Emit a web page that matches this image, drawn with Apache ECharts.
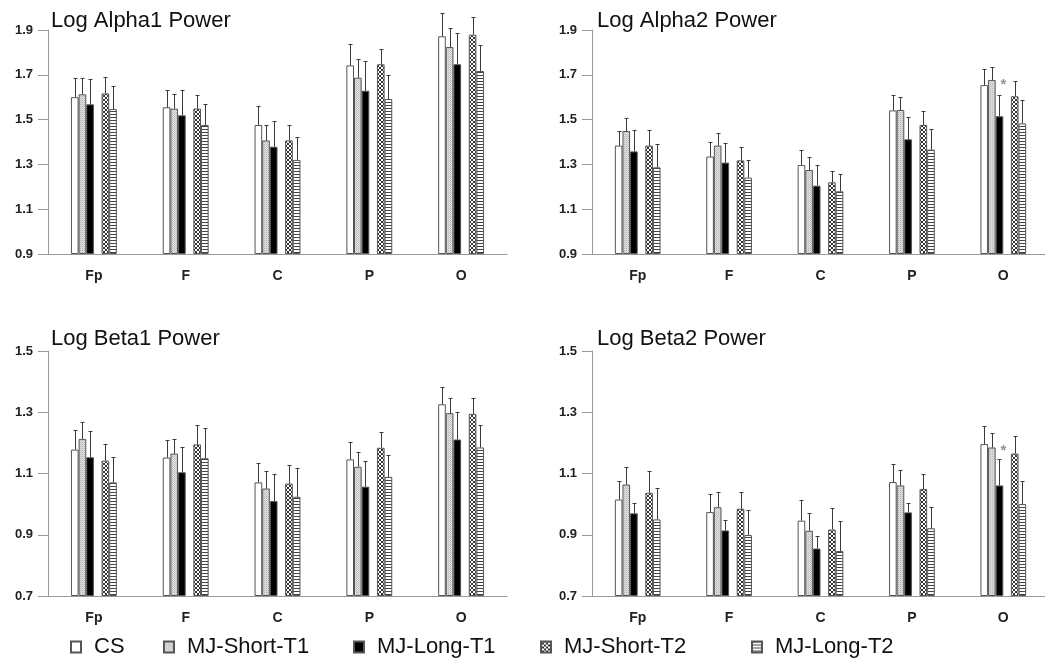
<!DOCTYPE html>
<html>
<head>
<meta charset="utf-8">
<title>Log EEG Power</title>
<script src="https://cdn.jsdelivr.net/npm/echarts@6/dist/echarts.min.js"></script>
<style>
  html, body { margin: 0; padding: 0; background: #fff; }
  #chart { width: 1045px; height: 665px; }
</style>
</head>
<body>
<div id="chart"></div>
<script>
const regions = ['Fp', 'F', 'C', 'P', 'O']
const groups = ['CS', 'MJ-Short-T1', 'MJ-Long-T1', 'MJ-Short-T2', 'MJ-Long-T2']

// one row per group, one column per region
const alpha1Mean = [
  [1.600, 1.555, 1.476, 1.742, 1.872],
  [1.613, 1.549, 1.407, 1.687, 1.824],
  [1.568, 1.519, 1.379, 1.629, 1.747],
  [1.617, 1.549, 1.407, 1.747, 1.879],
  [1.547, 1.476, 1.320, 1.592, 1.717]
]
const alpha1Err = [
  [0.086, 0.079, 0.085, 0.096, 0.102],
  [0.073, 0.067, 0.069, 0.084, 0.083],
  [0.113, 0.115, 0.116, 0.131, 0.138],
  [0.072, 0.062, 0.067, 0.070, 0.081],
  [0.104, 0.092, 0.101, 0.109, 0.115]
]
const alpha2Mean = [
  [1.384, 1.335, 1.297, 1.541, 1.654],
  [1.449, 1.384, 1.275, 1.543, 1.677],
  [1.358, 1.308, 1.205, 1.412, 1.515],
  [1.384, 1.318, 1.220, 1.476, 1.604],
  [1.287, 1.241, 1.180, 1.366, 1.483]
]
const alpha2Err = [
  [0.067, 0.066, 0.066, 0.069, 0.072],
  [0.057, 0.055, 0.060, 0.059, 0.059],
  [0.094, 0.089, 0.092, 0.098, 0.096],
  [0.070, 0.058, 0.049, 0.064, 0.068],
  [0.106, 0.077, 0.077, 0.094, 0.105]
]
const beta1Mean = [
  [1.178, 1.152, 1.071, 1.146, 1.326],
  [1.213, 1.165, 1.051, 1.122, 1.297],
  [1.153, 1.104, 1.010, 1.057, 1.211],
  [1.142, 1.195, 1.067, 1.184, 1.295],
  [1.071, 1.150, 1.024, 1.089, 1.185]
]
const beta1Err = [
  [0.064, 0.058, 0.062, 0.057, 0.057],
  [0.054, 0.048, 0.058, 0.049, 0.050],
  [0.086, 0.083, 0.090, 0.085, 0.091],
  [0.054, 0.064, 0.062, 0.050, 0.051],
  [0.082, 0.097, 0.094, 0.073, 0.073]
]
const beta2Mean = [
  [1.015, 0.974, 0.946, 1.072, 1.196],
  [1.064, 0.990, 0.913, 1.061, 1.185],
  [0.970, 0.914, 0.855, 0.973, 1.061],
  [1.037, 0.985, 0.917, 1.049, 1.165],
  [0.950, 0.899, 0.847, 0.921, 1.000]
]
const beta2Err = [
  [0.059, 0.059, 0.069, 0.058, 0.058],
  [0.058, 0.048, 0.059, 0.050, 0.048],
  [0.035, 0.033, 0.040, 0.032, 0.085],
  [0.071, 0.054, 0.069, 0.050, 0.056],
  [0.104, 0.083, 0.099, 0.070, 0.076]
]
// significance markers
const alpha2Star = [['O', 1.655]]
const beta2Star = [['O', 1.173]]

const alphaTicks = [0.9, 1.1, 1.3, 1.5, 1.7, 1.9]
const betaTicks = [0.7, 0.9, 1.1, 1.3, 1.5]

const FONT = '"Liberation Sans", Arial, sans-serif'

function makePattern (w, h, draw) {
  const c = document.createElement('canvas')
  c.width = w
  c.height = h
  const ctx = c.getContext('2d')
  draw(ctx)
  return { image: c, repeat: 'repeat' }
}

const dotted = makePattern(2, 2, ctx => {
  ctx.fillStyle = '#e2e2e2'
  ctx.fillRect(0, 0, 2, 2)
  ctx.fillStyle = '#b4b4b4'
  ctx.fillRect(0, 0, 1, 1)
  ctx.fillStyle = '#cccccc'
  ctx.fillRect(1, 1, 1, 1)
})
const hatch = makePattern(4, 4, ctx => {
  ctx.fillStyle = '#ffffff'
  ctx.fillRect(0, 0, 4, 4)
  ctx.fillStyle = '#333333'
  for (let i = 0; i < 4; i++) {
    ctx.fillRect(i, i, 1, 1)
    ctx.fillRect(3 - i, i, 1, 1)
  }
})
const stripes = makePattern(4, 3, ctx => {
  ctx.fillStyle = '#ffffff'
  ctx.fillRect(0, 0, 4, 3)
  ctx.fillStyle = '#444444'
  ctx.fillRect(0, 0, 4, 1)
})
const fills = ['#ffffff', dotted, '#000000', hatch, stripes]
// bar slot of each group inside a region; slot 3 stays empty
const slots = [0, 1, 2, 4, 5]

const panels = [
  { title: 'Log Alpha1 Power', mean: alpha1Mean, err: alpha1Err, ticks: alphaTicks, star: [], left: 48, top: 30, width: 459, height: 224, titleLeft: 51, titleTop: 10 },
  { title: 'Log Alpha2 Power', mean: alpha2Mean, err: alpha2Err, ticks: alphaTicks, star: alpha2Star, left: 592, top: 30, width: 457, height: 224, titleLeft: 597, titleTop: 10 },
  { title: 'Log Beta1 Power', mean: beta1Mean, err: beta1Err, ticks: betaTicks, star: [], left: 48, top: 351, width: 459, height: 245, titleLeft: 51, titleTop: 328 },
  { title: 'Log Beta2 Power', mean: beta2Mean, err: beta2Err, ticks: betaTicks, star: beta2Star, left: 592, top: 351, width: 457, height: 245, titleLeft: 597, titleTop: 328 }
]

function renderErrorBar (params, api) {
  const base = api.coord([api.value(0), api.value(1)])
  const top = api.coord([api.value(0), api.value(1) + api.value(2)])
  const bw = api.size([1, 0])[0] * 0.5 / 6
  const x = Math.round(base[0] + (api.value(3) - 2.5) * bw) + 0.5
  const y = Math.round(top[1]) + 0.5
  const style = { stroke: '#3a3a3a', lineWidth: 1 }
  return {
    type: 'group',
    children: [
      { type: 'line', shape: { x1: x, y1: base[1], x2: x, y2: y }, style: style },
      { type: 'line', shape: { x1: x - 2, y1: y, x2: x + 2, y2: y }, style: style }
    ]
  }
}

const grid = []
const xAxis = []
const yAxis = []
const title = []
const series = []

panels.forEach((p, k) => {
  grid.push({ left: p.left, top: p.top, width: p.width, height: p.height, outerBoundsMode: 'none' })
  title.push({
    text: p.title,
    left: p.titleLeft,
    top: p.titleTop,
    padding: 0,
    textStyle: { fontFamily: FONT, fontSize: 22, fontWeight: 'normal', color: '#111' }
  })
  xAxis.push({
    type: 'category',
    gridIndex: k,
    data: regions,
    axisLine: { lineStyle: { color: '#999', width: 1 } },
    axisTick: { alignWithLabel: true, length: 9, lineStyle: { color: '#888' } },
    axisLabel: { margin: 15, fontFamily: FONT, fontSize: 14, fontWeight: 'bold', color: '#222' }
  })
  const lo = p.ticks[0]
  const hi = p.ticks[p.ticks.length - 1]
  yAxis.push({
    type: 'value',
    gridIndex: k,
    min: lo,
    max: hi,
    startValue: lo,
    splitLine: { show: false },
    axisLine: { show: true, lineStyle: { color: '#999', width: 1 } },
    axisTick: { show: true, length: 10, customValues: p.ticks, lineStyle: { color: '#999' } },
    axisLabel: {
      margin: 15,
      customValues: p.ticks,
      formatter: v => v.toFixed(1),
      fontFamily: FONT, fontSize: 13, fontWeight: 'bold', color: '#222'
    }
  })
  groups.forEach((g, i) => {
    series.push({
      name: g,
      type: 'bar',
      xAxisIndex: k,
      yAxisIndex: k,
      barGap: 0,
      barCategoryGap: '50%',
      itemStyle: { color: fills[i], borderColor: '#555', borderWidth: 1 },
      emphasis: { disabled: true },
      data: p.mean[i]
    })
    if (i === 2) {
      // empty slot between the T1 and T2 groups
      series.push({
        name: 'gap',
        type: 'bar',
        xAxisIndex: k,
        yAxisIndex: k,
        barGap: 0,
        barCategoryGap: '50%',
        data: regions.map(() => '-')
      })
    }
  })
  const errData = []
  groups.forEach((g, i) => {
    regions.forEach((r, j) => {
      errData.push([j, p.mean[i][j], p.err[i][j], slots[i]])
    })
  })
  series.push({
    type: 'custom',
    xAxisIndex: k,
    yAxisIndex: k,
    renderItem: renderErrorBar,
    encode: { x: 0, y: 1 },
    z: 3,
    silent: true,
    data: errData
  })
  if (p.star.length) {
    series.push({
      type: 'scatter',
      xAxisIndex: k,
      yAxisIndex: k,
      symbolSize: 0,
      silent: true,
      label: { show: true, position: 'inside', formatter: '*', fontFamily: FONT, fontSize: 15, fontWeight: 'bold', color: '#777' },
      data: p.star
    })
  }
})

const legendLeft = [70, 163, 353, 540, 751]
const legend = groups.map((g, i) => ({
  data: [g],
  left: legendLeft[i],
  top: 636,
  padding: 0,
  icon: 'rect',
  itemWidth: 10,
  itemHeight: 11,
  selectedMode: false,
  textStyle: { fontFamily: FONT, fontSize: 22, color: '#111', padding: [0, 0, 0, 8] }
}))

const chart = echarts.init(document.getElementById('chart'), null, { renderer: 'canvas' })
chart.setOption({
  animation: false,
  backgroundColor: '#fff',
  title: title,
  legend: legend,
  grid: grid,
  xAxis: xAxis,
  yAxis: yAxis,
  series: series
})
window.addEventListener('resize', () => chart.resize())
</script>
</body>
</html>
